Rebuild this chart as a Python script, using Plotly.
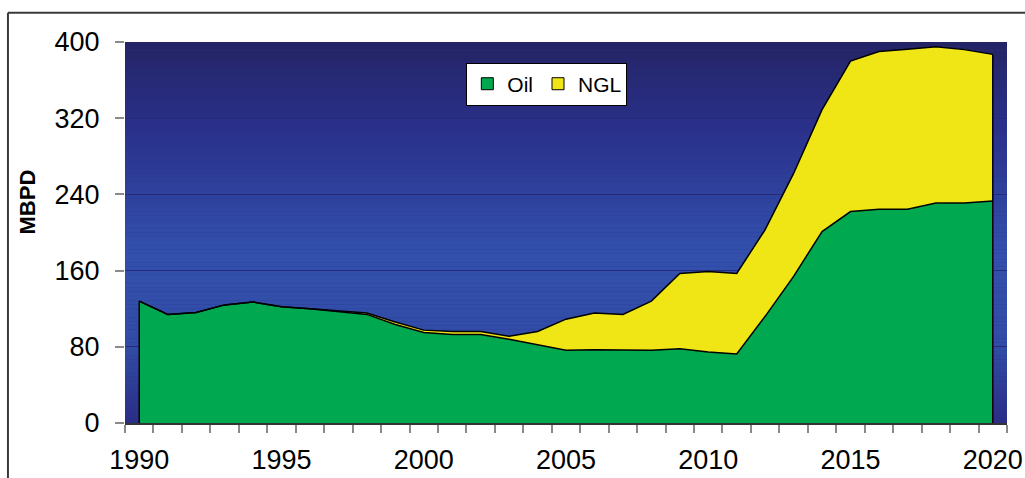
import plotly.graph_objects as go

# Production series, thousand barrels per day
years = list(range(1990, 2021))
oil = [128, 114, 116, 124, 127, 122, 120, 117, 114, 103.5,
       95, 93, 93, 88, 82, 76.5, 77, 77, 76.5, 78,
       74.5, 72.5, 112, 154, 201, 222, 224.5, 224.5, 231, 231, 233]
ngl = [0, 0, 0, 0, 0, 0, 0, 0.5, 1.5, 2.5,
       2.5, 3, 3, 3, 14, 32.5, 38.5, 37, 51.5, 79,
       84.5, 84.5, 91, 108, 128, 158, 165.5, 168, 164, 161, 154]

y_ticks = [0, 80, 160, 240, 320, 400]
x_ticks = [1990, 1995, 2000, 2005, 2010, 2015, 2020]

GREEN = "#00a84f"
YELLOW = "#f0e616"
FONT = "Liberation Sans"

fig = go.Figure()

fig.add_trace(go.Scatter(
    x=years, y=oil, name="Oil", stackgroup="prod", mode="lines",
    line=dict(color="black", width=1.5), fillcolor=GREEN, showlegend=False,
))
fig.add_trace(go.Scatter(
    x=years, y=ngl, name="NGL", stackgroup="prod", mode="lines",
    line=dict(color="black", width=1.5), fillcolor=YELLOW, showlegend=False,
))

# closing edges of the stacked area at first and last year
total = [o + n for o, n in zip(oil, ngl)]
for i in (0, -1):
    fig.add_trace(go.Scatter(
        x=[years[i], years[i]], y=[0, total[i]], mode="lines",
        line=dict(color="black", width=1.5), showlegend=False, hoverinfo="skip",
    ))

# legend swatches
for name, col in (("Oil", GREEN), ("NGL", YELLOW)):
    fig.add_trace(go.Scatter(
        x=[None], y=[None], mode="markers", name=name,
        marker=dict(symbol="square", size=12, color=col,
                    line=dict(color="black", width=1)),
    ))

# vertical gradient backdrop for the plotting area
stops = [(0.0, (36, 36, 100)), (0.22, (42, 48, 138)), (0.55, (50, 80, 172)),
         (0.8, (49, 76, 166)), (1.0, (42, 46, 134))]
n_bands = 90
shapes = []
for k in range(n_bands):
    t = k / (n_bands - 1)
    for (p0, c0), (p1, c1) in zip(stops[:-1], stops[1:]):
        if p0 <= t <= p1:
            f = (t - p0) / (p1 - p0)
            c = [int(round(a + (b - a) * f)) for a, b in zip(c0, c1)]
            break
    y1 = 1 - k / n_bands
    y0 = 1 - (k + 1) / n_bands
    shapes.append(dict(type="rect", xref="x domain", yref="y domain",
                       x0=0, x1=1, y0=y0, y1=y1, layer="below",
                       line=dict(width=0), fillcolor=f"rgb({c[0]},{c[1]},{c[2]})"))

# outer frame lines
shapes.append(dict(type="line", xref="paper", yref="paper",
                   x0=-0.1327, x1=1.03, y0=1.0769, y1=1.0769,
                   line=dict(color="#3a3a3a", width=2)))
shapes.append(dict(type="line", xref="paper", yref="paper",
                   x0=-0.1327, x1=-0.1327, y0=1.0769, y1=-0.2,
                   line=dict(color="#3a3a3a", width=2)))

fig.update_layout(
    width=1025, height=478,
    margin=dict(l=125, r=18, t=42, b=55),
    paper_bgcolor="white", plot_bgcolor="#2c3490",
    font=dict(family=FONT, color="black"),
    shapes=shapes,
    showlegend=True,
    legend=dict(orientation="h", x=0.387, y=0.946, xanchor="left", yanchor="top",
                bgcolor="white", bordercolor="black", borderwidth=1,
                font=dict(size=21, family=FONT), itemwidth=30,
                traceorder="normal", tracegroupgap=0),
    annotations=[dict(text="<b>MBPD</b>", xref="paper", yref="paper",
                      x=-0.127, y=0.58, textangle=-90, showarrow=False,
                      font=dict(size=22, family=FONT))],
)

fig.update_xaxes(
    range=[1989.5, 2020.5], tickmode="array", tickvals=x_ticks,
    ticks="", showgrid=False, zeroline=False, automargin=False,
    tickfont=dict(size=27, family=FONT), ticklabelstandoff=12,
    showline=True, linecolor="#333333", linewidth=1.5,
    minor=dict(tick0=1989.5, dtick=1, ticks="outside", ticklen=8,
               tickcolor="#8a8a8a", tickwidth=1.5, showgrid=False),
)
fig.update_yaxes(
    range=[0, 400], tickmode="array", tickvals=y_ticks,
    ticks="outside", ticklen=9, tickcolor="#8a8a8a", tickwidth=1.5,
    showgrid=True, gridcolor="#262a78", gridwidth=1.2, zeroline=False,
    automargin=False,
    tickfont=dict(size=27, family=FONT), ticklabelstandoff=10,
)

fig.write_html("out.html")
